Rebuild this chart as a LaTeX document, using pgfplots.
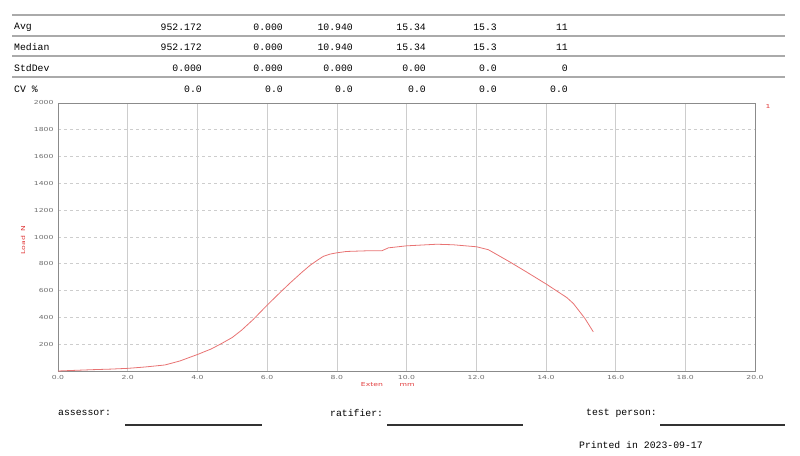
\documentclass[border=0pt]{standalone}
\usepackage{pgfplots}
\pgfplotsset{compat=1.18}
\usepackage{fontspec}
\setmainfont{Liberation Serif}
\newfontfamily\monofont{Liberation Mono}
\newfontfamily\tickfont[FakeStretch=1.4]{DejaVu Sans}
\definecolor{curvered}{RGB}{232,115,115}
\definecolor{labred}{RGB}{225,60,60}
\definecolor{tabline}{RGB}{170,170,170}
\definecolor{gridc}{RGB}{205,205,205}
\definecolor{tickc}{RGB}{110,110,110}
\begin{document}
\begin{tikzpicture}[x=1pt,y=1pt]
\path[use as bounding box] (0,0) rectangle (800,455);
% table lines
\foreach \yy in {15,36,56,77}{
  \draw[tabline, line width=1.6pt] (12,455-\yy) -- (785,455-\yy);
}
% table rows
\def\row#1#2#3#4#5#6#7#8{%
  \node[anchor=west, inner sep=0pt, font=\monofont\fontsize{9.8}{10}\selectfont] at (14,455-#1) {#2};
  \node[anchor=east, inner sep=0pt, font=\monofont\fontsize{9.8}{10}\selectfont] at (202,455-#1) {#3};
  \node[anchor=east, inner sep=0pt, font=\monofont\fontsize{9.8}{10}\selectfont] at (283,455-#1) {#4};
  \node[anchor=east, inner sep=0pt, font=\monofont\fontsize{9.8}{10}\selectfont] at (353,455-#1) {#5};
  \node[anchor=east, inner sep=0pt, font=\monofont\fontsize{9.8}{10}\selectfont] at (426,455-#1) {#6};
  \node[anchor=east, inner sep=0pt, font=\monofont\fontsize{9.8}{10}\selectfont] at (497,455-#1) {#7};
  \node[anchor=east, inner sep=0pt, font=\monofont\fontsize{9.8}{10}\selectfont] at (568,455-#1) {#8};
}
\row{27}{Avg}{952.172}{0.000}{10.940}{15.34}{15.3}{11}
\row{47}{Median}{952.172}{0.000}{10.940}{15.34}{15.3}{11}
\row{68}{StdDev}{0.000}{0.000}{0.000}{0.00}{0.0}{0}
\row{89}{CV \%}{0.0}{0.0}{0.0}{0.0}{0.0}{0.0}
% axis
\begin{axis}[
  at={(58pt,84pt)}, anchor=south west,
  scale only axis, width=697pt, height=268pt,
  xmin=0, xmax=20, ymin=0, ymax=2000,
  xtick={0,2,...,20}, ytick={200,400,...,2000},
  xticklabel={\pgfmathprintnumber[fixed,fixed zerofill,precision=1]{\tick}},
  yticklabel={\pgfmathprintnumber[int detect,1000 sep={}]{\tick}},
  /pgf/number format/assume math mode=true,
  tick label style={font=\tickfont\fontsize{5.5}{6}\selectfont, text=tickc},
  xticklabel style={yshift=-1pt},
  yticklabel style={xshift=-1pt},
  major tick length=0pt,
  xmajorgrids, ymajorgrids,
  x grid style={gridc, line width=0.6pt},
  y grid style={gridc, dashed, line width=0.6pt},
  axis line style={tickc!80, line width=0.9pt},
  clip=false,
]
\addplot[curvered, line width=0.8pt, no marks, line join=round] coordinates {
(0,0) (0.5,5) (1,10) (1.5,14) (2.02,20) (2.5,30) (3.07,45) (3.5,75) (4.03,126)
(4.4,165) (4.7,206) (5.0,250) (5.27,305) (5.6,384) (6.0,491) (6.37,585)
(6.66,657) (7.0,737) (7.23,788) (7.45,828) (7.61,855) (7.8,872) (8.0,882)
(8.28,892) (8.86,897) (9.29,897)
(9.48,919) (10.0,934) (10.87,946) (11.34,942) (12.01,927) (12.35,905)
(12.97,813) (13.45,738) (14.02,647) (14.6,548) (14.79,503) (15.12,392) (15.36,292)
};
\end{axis}
% axis labels
\node[rotate=90, text=labred, inner sep=0pt, font=\tickfont\fontsize{5.5}{6}\selectfont] at (23,455-240) {Load\ \ N};
\node[text=labred, inner sep=0pt, font=\tickfont\fontsize{5.5}{6}\selectfont] at (372,455-385) {Exten};
\node[text=labred, inner sep=0pt, font=\tickfont\fontsize{5.5}{6}\selectfont] at (407,455-385) {mm};
\node[text=labred, inner sep=0pt, font=\tickfont\fontsize{5.5}{6}\selectfont] at (768,455-106) {1};
% footer
\node[anchor=west, inner sep=0pt, font=\monofont\fontsize{9.8}{10}\selectfont] at (58,455-413) {assessor:};
\draw[black!80, line width=1.3pt] (125,455-425) -- (262,455-425);
\node[anchor=west, inner sep=0pt, font=\monofont\fontsize{9.8}{10}\selectfont] at (330,455-413) {ratifier:};
\draw[black!80, line width=1.3pt] (387,455-425) -- (523,455-425);
\node[anchor=west, inner sep=0pt, font=\monofont\fontsize{9.8}{10}\selectfont] at (586,455-413) {test person:};
\draw[black!80, line width=1.3pt] (660,455-425) -- (785,455-425);
\node[anchor=west, inner sep=0pt, font=\monofont\fontsize{9.8}{10}\selectfont] at (579,455-445) {Printed in 2023-09-17};
\end{tikzpicture}
\end{document}
